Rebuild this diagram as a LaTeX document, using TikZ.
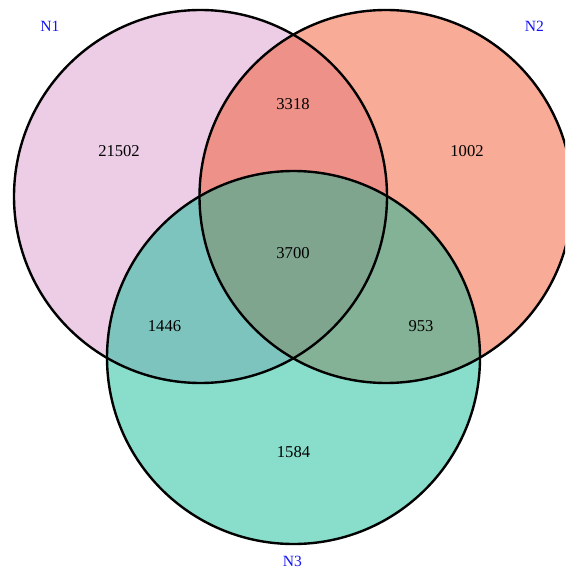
\documentclass[tikz,border=0pt]{standalone}
\usepackage{fontspec}
\setmainfont{Liberation Serif}
\definecolor{setA}{RGB}{219,155,205}
\definecolor{setB}{RGB}{241,87,45}
\definecolor{setC}{RGB}{17,187,151}
\definecolor{setlabel}{RGB}{20,20,245}
\begin{document}
\begin{tikzpicture}[x=1pt,y=-1pt,
  count/.style={font=\fontsize{16.6}{19}\selectfont, text=black, inner sep=0pt},
  setname/.style={font=\fontsize{15.6}{18}\selectfont, text=setlabel, inner sep=0pt},
  rim/.style={draw=black, line width=2.4pt}]
\useasboundingbox (0,0) rectangle (565,569);
\clip (0,0) rectangle (565,569);
% set regions, blended with half opacity
\fill[setA, fill opacity=0.5] (200.5,196.5) circle (186.5);
\fill[setB, fill opacity=0.5] (386,196.5) circle (186.5);
\fill[setC, fill opacity=0.5] (293.5,357.5) circle (186.5);
% outlines
\draw[rim] (200.5,196.5) circle (186.5);
\draw[rim] (386,196.5) circle (186.5);
\draw[rim] (293.5,357.5) circle (186.5);
% region counts
\node[count] (c1)   at (119,151) {21502};
\node[count] (c12)  at (293,104) {3318};
\node[count] (c2)   at (467,151) {1002};
\node[count] (c123) at (293,253) {3700};
\node[count] (c13)  at (164.5,326) {1446};
\node[count] (c23)  at (421,326) {953};
\node[count] (c3)   at (293.5,452.5) {1584};
% set names
\node[setname] (l1) at (50,26)  {N1};
\node[setname] (l2) at (534.5,26) {N2};
\node[setname] (l3) at (292.5,561) {N3};
\end{tikzpicture}
\end{document}
